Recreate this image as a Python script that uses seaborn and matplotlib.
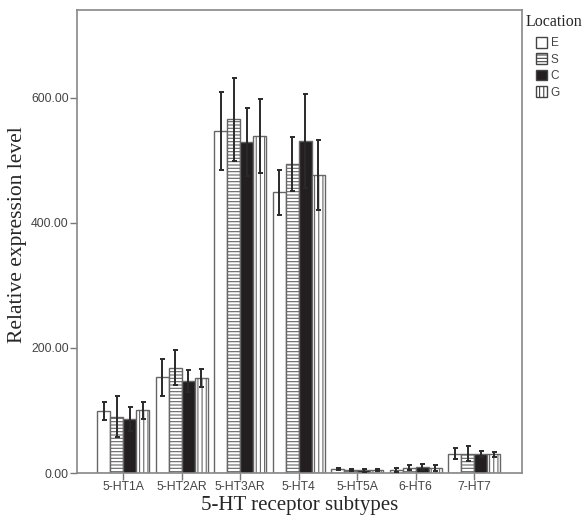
import numpy as np
import pandas as pd
import matplotlib
matplotlib.use('Agg')
import matplotlib.pyplot as plt
from matplotlib.patches import Patch
import seaborn as sns

# ------------------------------------------------------
# INPUTS
# ------------------------------------------------------

subtypes = ['5-HT1A', '5-HT2AR', '5-HT3AR', '5-HT4', '5-HT5A', '6-HT6', '7-HT7']
locations = ['E', 'S', 'C', 'G']

# mean relative expression per location
E_mean = [99, 153, 547, 449, 6, 5, 31]
S_mean = [90, 168, 565, 494, 5, 8, 31]
C_mean = [86, 147, 529, 531, 4, 9, 30]
G_mean = [100, 152, 539, 477, 5, 8, 30]

# error bar half-lengths
E_err = [15, 30, 62, 36, 2, 3, 9]
S_err = [33, 28, 66, 43, 2, 4, 12]
C_err = [19, 17, 55, 75, 2, 5, 5]
G_err = [14, 15, 59, 56, 2, 5, 4]

yticks = [0, 200, 400, 600]

# styles per location
fills = {'E': 'white', 'S': 'white', 'C': '#231f20', 'G': 'white'}
hatches = {'E': '', 'S': '-----', 'C': '', 'G': '||||'}

# ------------------------------------------------------
# COMPUTATIONS
# ------------------------------------------------------

means = [E_mean, S_mean, C_mean, G_mean]
errs = [E_err, S_err, C_err, G_err]

df = pd.DataFrame({
    'Subtype': subtypes * len(locations),
    'Location': np.repeat(locations, len(subtypes)),
    'Value': np.concatenate(means),
})

sns.set_style('white')
plt.rcParams['hatch.linewidth'] = 0.8

fig = plt.figure(figsize=(5.87, 5.23), dpi=100)
ax = fig.add_axes([77/587, 50/523, 445/587, 463/523])

sns.barplot(data=df, x='Subtype', y='Value', hue='Location', order=subtypes,
            hue_order=locations, errorbar=None, width=0.89, gap=0,
            edgecolor='#666666', linewidth=1.0, legend=False, ax=ax)

# set fill / hatch per location and add error bars
for loc, cont, err in zip(locations, ax.containers, errs):
    xs, ys = [], []
    for bar in cont:
        bar.set_facecolor(fills[loc])
        bar.set_hatch(hatches[loc])
        bar.set_edgecolor('#666666')
        xs.append(bar.get_x() + bar.get_width() / 2)
        ys.append(bar.get_height())
    ax.errorbar(xs, ys, yerr=err, fmt='none', ecolor='#2a2a2a',
                elinewidth=1.4, capsize=1.8, capthick=1.4, zorder=5)

# Adjust properties
ax.set_ylim(0, 740)
ax.set_xlim(-0.79, 6.82)
ax.set_yticks(yticks)
ax.set_yticklabels(['%.2f' % v for v in yticks])
ax.tick_params(axis='both', direction='out', length=5, width=1,
               color='#777777', labelcolor='#444444', labelsize=8.8,
               bottom=True, left=True, pad=1)
for lab in ax.get_xticklabels() + ax.get_yticklabels():
    lab.set_family(['Liberation Sans', 'DejaVu Sans'])
for sp in ax.spines.values():
    sp.set_visible(True)
    sp.set_color('#888888')
    sp.set_linewidth(1.2)

ax.set_xlabel('5-HT receptor subtypes', family='Liberation Serif',
              fontsize=15, labelpad=2)
ax.set_ylabel('Relative expression level', family='Liberation Serif',
              fontsize=15.5)
ax.yaxis.set_label_coords(-0.112, 0.514)

# Legend outside on the right, title drawn separately so entries are indented
fig.text(526/587, 1 - 22/523, 'Location', family='Liberation Serif',
         fontsize=11.5, ha='left', va='center')
handles = [Patch(facecolor=fills[l], edgecolor='#444444', hatch=hatches[l], label=l)
           for l in locations]
leg = fig.legend(handles=handles, loc='upper left',
                 bbox_to_anchor=(536/587, 1 - 37/523), frameon=False,
                 prop={'family': 'Liberation Sans', 'size': 8.5},
                 handlelength=0.95, handleheight=1.0, handletextpad=0.3,
                 labelspacing=0.35, borderaxespad=0, borderpad=0)
for t in leg.get_texts():
    t.set_color('#444444')

# Save the figure
plt.savefig('out.png', dpi=100)
plt.close('all')
